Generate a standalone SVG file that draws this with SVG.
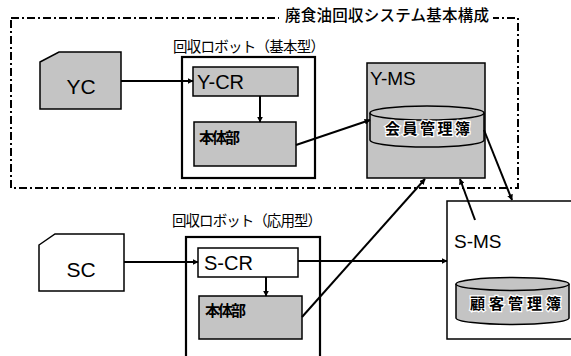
<svg xmlns="http://www.w3.org/2000/svg" width="571" height="356" viewBox="0 0 571 356">
<style>
text{font-family:"Liberation Sans","Noto Sans CJK JP",sans-serif;fill:#000}
.jp{font-family:"Noto Sans CJK JP",sans-serif}
.box{stroke:#000;stroke-width:1.5}
.gray{fill:#c4c4c4}
.white{fill:#fff}
.lbl{font-size:20px}
.body{font-family:"Noto Sans CJK JP",sans-serif;font-size:15px;font-weight:bold}
.db{font-family:"Noto Sans CJK JP",sans-serif;font-size:15px;font-weight:bold;stroke:#fff;stroke-width:2.5px;paint-order:stroke}
.cn{fill:none;stroke:#000;stroke-width:2}
.frame{fill:none;stroke:#000;stroke-width:2;stroke-dasharray:8 3 2 3}
</style>
<defs>
<marker id="ah" viewBox="0 0 10 10" refX="9" refY="5" markerWidth="6" markerHeight="6" orient="auto" markerUnits="userSpaceOnUse">
<path d="M0,0 L10,5 L0,10 z" fill="#000"/>
</marker>
</defs>
<rect width="571" height="356" fill="#fff"/>
<g id="frame">
<rect class="frame" x="11" y="18" width="507" height="170"/>
<rect x="279" y="8" width="214" height="20" fill="#fff"/>
<text class="jp" x="285" y="21" font-size="15.5" font-weight="500" textLength="204">廃食油回収システム基本構成</text>
</g>
<g id="robot-basic">
<text class="jp" x="173" y="52" font-size="14.5" textLength="152">回収ロボット（基本型）</text>
<rect x="182" y="57" width="133" height="121" fill="#fff" stroke="#000" stroke-width="2.2"/>
</g>
<g id="robot-applied">
<text class="jp" x="172" y="226" font-size="14.5" textLength="150">回収ロボット（応用型）</text>
<rect x="186" y="237" width="134" height="130" fill="#fff" stroke="#000" stroke-width="2.2"/>
</g>
<g id="YC">
<polygon class="box gray" points="40,62 59,52 121,52 121,109 40,109"/>
<text x="81" y="94" font-size="21" text-anchor="middle">YC</text>
</g>
<g id="Y-CR">
<rect class="box gray" x="193" y="67" width="105" height="29"/>
<text class="lbl" x="197" y="89">Y-CR</text>
</g>
<g id="body1">
<rect class="box gray" x="194" y="122" width="102" height="44"/>
<text class="body" x="199" y="143" textLength="41">本体部</text>
</g>
<g id="Y-MS">
<rect class="box gray" x="367" y="63" width="118" height="115"/>
<text x="370" y="85" font-size="19">Y-MS</text>
</g>
<g id="member-db">
<path class="box gray" d="M370,113 L370,140 A57,7 0 0 0 484,140 L484,113"/>
<ellipse class="box gray" cx="427" cy="113" rx="57" ry="7"/>
<text class="db" x="385" y="134" textLength="85">会員管理簿</text>
</g>
<g id="SC">
<polygon class="box white" points="39,245 55,234 124,234 124,291 39,291"/>
<text x="81" y="277" font-size="21" text-anchor="middle">SC</text>
</g>
<g id="S-CR">
<rect class="box white" x="198" y="248" width="100" height="29"/>
<text class="lbl" x="204" y="270">S-CR</text>
</g>
<g id="body2">
<rect class="box gray" x="199" y="296" width="103" height="43"/>
<text class="body" x="205" y="316" textLength="41">本体部</text>
</g>
<g id="S-MS">
<rect class="box white" x="447" y="201" width="130" height="138"/>
<text x="454" y="248" font-size="19">S-MS</text>
</g>
<g id="customer-db">
<path class="box gray" d="M456,284 L456,318 A56.5,6.5 0 0 0 569,318 L569,284"/>
<ellipse class="box gray" cx="512.5" cy="284" rx="56.5" ry="6.5"/>
<text class="db" x="470" y="309" textLength="91">顧客管理簿</text>
</g>
<g id="connectors">
<line class="cn" x1="121" y1="81" x2="193" y2="81" marker-end="url(#ah)"/>
<line class="cn" x1="260" y1="96" x2="260" y2="122" marker-end="url(#ah)"/>
<line class="cn" x1="296" y1="145" x2="370" y2="120" marker-end="url(#ah)"/>
<line class="cn" x1="484" y1="130" x2="512" y2="200" marker-end="url(#ah)"/>
<line class="cn" x1="124" y1="262" x2="198" y2="262" marker-end="url(#ah)"/>
<line class="cn" x1="266" y1="277" x2="266" y2="296" marker-end="url(#ah)"/>
<line class="cn" x1="298" y1="261" x2="447" y2="261" marker-end="url(#ah)"/>
<line class="cn" x1="302" y1="317" x2="425" y2="179" marker-end="url(#ah)"/>
<line class="cn" x1="475" y1="220" x2="460" y2="179" marker-end="url(#ah)"/>
</g>
</svg>
